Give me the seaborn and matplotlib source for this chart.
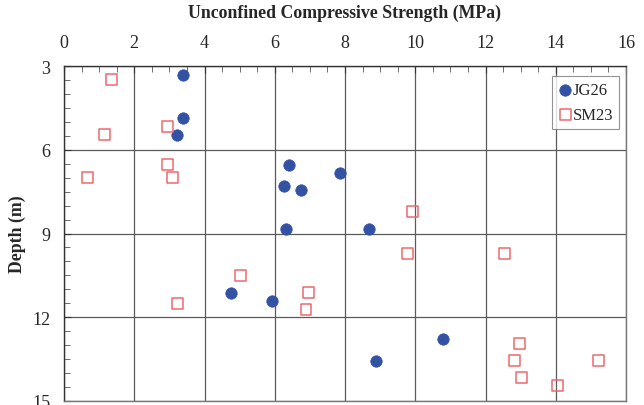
import matplotlib
matplotlib.use("Agg")
import matplotlib.pyplot as plt
import seaborn as sns
import pandas as pd
from matplotlib.ticker import MultipleLocator

jg26_ucs = [3.38, 3.38, 3.23, 6.40, 7.85, 6.26, 6.75, 6.33, 8.68, 4.75, 5.92, 10.80, 8.87]
jg26_depth = [3.33, 4.86, 5.47, 6.53, 6.84, 7.31, 7.45, 8.83, 8.83, 11.12, 11.42, 12.79, 13.55]

sm23_ucs = [1.36, 2.94, 1.16, 2.94, 0.68, 3.09, 9.92, 9.78, 12.54, 5.02, 6.96, 6.89, 3.22,
            12.96, 12.82, 13.03, 14.06, 15.23]
sm23_depth = [3.49, 5.16, 5.46, 6.52, 6.99, 6.98, 8.20, 9.73, 9.73, 10.49, 11.11, 11.72, 11.52,
              12.93, 13.54, 14.15, 14.44, 13.54]

sns.set_style("white")
plt.rcParams['font.family'] = ['Liberation Serif', 'DejaVu Serif']

fig = plt.figure(figsize=(6.44, 4.06), dpi=100)
ax = fig.add_axes([64/644, 1 - 402/406, (626-64)/644, (402-67)/406])

df1 = pd.DataFrame({"ucs": jg26_ucs, "depth": jg26_depth})
df2 = pd.DataFrame({"ucs": sm23_ucs, "depth": sm23_depth})

sns.scatterplot(data=df1, x="ucs", y="depth", ax=ax, marker="o", s=68,
                color="#3452A3", edgecolor="#3452A3", linewidth=0.5, label="JG26", zorder=3)
sns.scatterplot(data=df2, x="ucs", y="depth", ax=ax, marker="s", s=62,
                facecolor="none", edgecolor="#EC6A6E", linewidth=1.1, label="SM23", zorder=3)

ax.set_xlim(0, 16)
ax.set_ylim(15, 3)
ax.xaxis.set_major_locator(MultipleLocator(2))
ax.xaxis.set_minor_locator(MultipleLocator(0.5))
ax.yaxis.set_major_locator(MultipleLocator(3))
ax.yaxis.set_minor_locator(MultipleLocator(0.5))
ax.xaxis.tick_top()
ax.xaxis.set_label_position("top")
ax.tick_params(axis="x", which="both", direction="in", top=True, bottom=False, labelsize=13, pad=11)
ax.tick_params(axis="y", which="both", direction="in", left=True, right=False, labelsize=13, pad=10)
ax.tick_params(which="major", length=5, color="#333333", width=0.8)
ax.tick_params(which="minor", length=4, color="#555555", width=0.6)
ax.grid(True, which="major", color="#5a5a5a", linewidth=0.9)
for s in ax.spines.values():
    s.set_color("#333333")
    s.set_linewidth(1.0)
ax.spines["right"].set_color("#777777")
ax.spines["bottom"].set_color("#777777")

ax.set_xlabel("Unconfined Compressive Strength (MPa)", fontsize=12.8, fontweight="bold", labelpad=12)
ax.set_ylabel("Depth (m)", fontsize=12.8, fontweight="bold", labelpad=4)

leg = ax.legend(loc="upper right", bbox_to_anchor=(0.988, 0.970), fontsize=12, frameon=True,
                fancybox=False, edgecolor="#777777", handletextpad=0.0, handlelength=0.9,
                borderpad=0.35, labelspacing=0.55, borderaxespad=0.0)
leg.get_frame().set_linewidth(0.8)

fig.savefig("out.png", dpi=100)
